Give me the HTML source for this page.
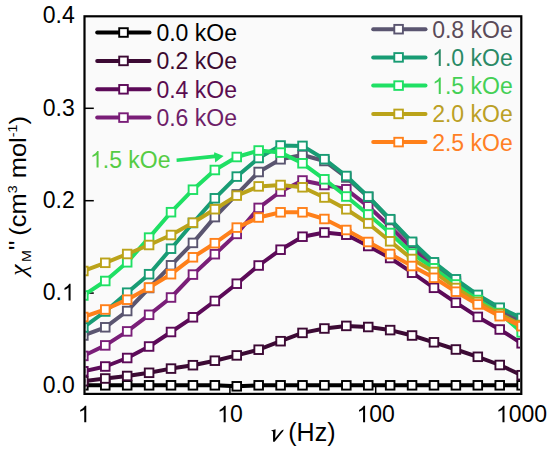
<!DOCTYPE html>
<html><head><meta charset="utf-8"><style>
html,body{margin:0;padding:0;background:#fff;width:550px;height:450px;overflow:hidden}
svg{display:block;font-family:"Liberation Sans",sans-serif}
</style></head><body>
<svg width="550" height="450" viewBox="0 0 550 450">
<defs><clipPath id="pc"><rect x="85.5" y="17.5" width="434.5" height="375.5"/></clipPath></defs>
<rect x="84.5" y="16.5" width="436.5" height="377.5" fill="#fafafa"/>
<line x1="85" y1="385.50" x2="93.8" y2="385.50" stroke="#000" stroke-width="1.5"/>
<line x1="85" y1="293.10" x2="93.8" y2="293.10" stroke="#000" stroke-width="1.5"/>
<line x1="85" y1="200.70" x2="93.8" y2="200.70" stroke="#000" stroke-width="1.5"/>
<line x1="85" y1="108.30" x2="93.8" y2="108.30" stroke="#000" stroke-width="1.5"/>
<line x1="229.90" y1="393" x2="229.90" y2="386.5" stroke="#000" stroke-width="1.5"/>
<line x1="375.70" y1="393" x2="375.70" y2="386.5" stroke="#000" stroke-width="1.5"/>
<g clip-path="url(#pc)">
<polyline points="83.36,385.30 105.27,385.30 127.19,385.30 149.10,385.30 171.02,385.30 192.93,385.30 214.84,385.30 236.76,386.30 258.67,385.30 280.59,385.30 302.50,385.30 324.41,385.30 346.33,385.30 368.24,385.30 390.16,385.30 412.07,385.30 433.98,385.30 455.90,385.30 477.81,385.30 499.73,385.30 521.64,385.30" fill="none" stroke="#000000" stroke-width="4.0" stroke-linejoin="round"/>
<rect x="79.06" y="381.00" width="8.6" height="8.6" fill="#fff" stroke="#000000" stroke-width="1.9"/>
<rect x="100.97" y="381.00" width="8.6" height="8.6" fill="#fff" stroke="#000000" stroke-width="1.9"/>
<rect x="122.89" y="381.00" width="8.6" height="8.6" fill="#fff" stroke="#000000" stroke-width="1.9"/>
<rect x="144.80" y="381.00" width="8.6" height="8.6" fill="#fff" stroke="#000000" stroke-width="1.9"/>
<rect x="166.72" y="381.00" width="8.6" height="8.6" fill="#fff" stroke="#000000" stroke-width="1.9"/>
<rect x="188.63" y="381.00" width="8.6" height="8.6" fill="#fff" stroke="#000000" stroke-width="1.9"/>
<rect x="210.54" y="381.00" width="8.6" height="8.6" fill="#fff" stroke="#000000" stroke-width="1.9"/>
<rect x="232.46" y="382.00" width="8.6" height="8.6" fill="#fff" stroke="#000000" stroke-width="1.9"/>
<rect x="254.37" y="381.00" width="8.6" height="8.6" fill="#fff" stroke="#000000" stroke-width="1.9"/>
<rect x="276.29" y="381.00" width="8.6" height="8.6" fill="#fff" stroke="#000000" stroke-width="1.9"/>
<rect x="298.20" y="381.00" width="8.6" height="8.6" fill="#fff" stroke="#000000" stroke-width="1.9"/>
<rect x="320.11" y="381.00" width="8.6" height="8.6" fill="#fff" stroke="#000000" stroke-width="1.9"/>
<rect x="342.03" y="381.00" width="8.6" height="8.6" fill="#fff" stroke="#000000" stroke-width="1.9"/>
<rect x="363.94" y="381.00" width="8.6" height="8.6" fill="#fff" stroke="#000000" stroke-width="1.9"/>
<rect x="385.86" y="381.00" width="8.6" height="8.6" fill="#fff" stroke="#000000" stroke-width="1.9"/>
<rect x="407.77" y="381.00" width="8.6" height="8.6" fill="#fff" stroke="#000000" stroke-width="1.9"/>
<rect x="429.68" y="381.00" width="8.6" height="8.6" fill="#fff" stroke="#000000" stroke-width="1.9"/>
<rect x="451.60" y="381.00" width="8.6" height="8.6" fill="#fff" stroke="#000000" stroke-width="1.9"/>
<rect x="473.51" y="381.00" width="8.6" height="8.6" fill="#fff" stroke="#000000" stroke-width="1.9"/>
<rect x="495.43" y="381.00" width="8.6" height="8.6" fill="#fff" stroke="#000000" stroke-width="1.9"/>
<rect x="517.34" y="381.00" width="8.6" height="8.6" fill="#fff" stroke="#000000" stroke-width="1.9"/>
<polyline points="83.36,381.20 105.27,378.50 127.19,376.00 149.10,372.80 171.02,368.60 192.93,365.20 214.84,360.70 236.76,355.40 258.67,349.70 280.59,341.20 302.50,332.90 324.41,328.50 346.33,325.90 368.24,327.00 390.16,330.10 412.07,335.50 433.98,342.30 455.90,349.50 477.81,356.80 499.73,365.00 521.64,375.20" fill="none" stroke="#3c0a34" stroke-width="4.0" stroke-linejoin="round"/>
<rect x="79.06" y="376.90" width="8.6" height="8.6" fill="#fff" stroke="#3c0a34" stroke-width="1.9"/>
<rect x="100.97" y="374.20" width="8.6" height="8.6" fill="#fff" stroke="#3c0a34" stroke-width="1.9"/>
<rect x="122.89" y="371.70" width="8.6" height="8.6" fill="#fff" stroke="#3c0a34" stroke-width="1.9"/>
<rect x="144.80" y="368.50" width="8.6" height="8.6" fill="#fff" stroke="#3c0a34" stroke-width="1.9"/>
<rect x="166.72" y="364.30" width="8.6" height="8.6" fill="#fff" stroke="#3c0a34" stroke-width="1.9"/>
<rect x="188.63" y="360.90" width="8.6" height="8.6" fill="#fff" stroke="#3c0a34" stroke-width="1.9"/>
<rect x="210.54" y="356.40" width="8.6" height="8.6" fill="#fff" stroke="#3c0a34" stroke-width="1.9"/>
<rect x="232.46" y="351.10" width="8.6" height="8.6" fill="#fff" stroke="#3c0a34" stroke-width="1.9"/>
<rect x="254.37" y="345.40" width="8.6" height="8.6" fill="#fff" stroke="#3c0a34" stroke-width="1.9"/>
<rect x="276.29" y="336.90" width="8.6" height="8.6" fill="#fff" stroke="#3c0a34" stroke-width="1.9"/>
<rect x="298.20" y="328.60" width="8.6" height="8.6" fill="#fff" stroke="#3c0a34" stroke-width="1.9"/>
<rect x="320.11" y="324.20" width="8.6" height="8.6" fill="#fff" stroke="#3c0a34" stroke-width="1.9"/>
<rect x="342.03" y="321.60" width="8.6" height="8.6" fill="#fff" stroke="#3c0a34" stroke-width="1.9"/>
<rect x="363.94" y="322.70" width="8.6" height="8.6" fill="#fff" stroke="#3c0a34" stroke-width="1.9"/>
<rect x="385.86" y="325.80" width="8.6" height="8.6" fill="#fff" stroke="#3c0a34" stroke-width="1.9"/>
<rect x="407.77" y="331.20" width="8.6" height="8.6" fill="#fff" stroke="#3c0a34" stroke-width="1.9"/>
<rect x="429.68" y="338.00" width="8.6" height="8.6" fill="#fff" stroke="#3c0a34" stroke-width="1.9"/>
<rect x="451.60" y="345.20" width="8.6" height="8.6" fill="#fff" stroke="#3c0a34" stroke-width="1.9"/>
<rect x="473.51" y="352.50" width="8.6" height="8.6" fill="#fff" stroke="#3c0a34" stroke-width="1.9"/>
<rect x="495.43" y="360.70" width="8.6" height="8.6" fill="#fff" stroke="#3c0a34" stroke-width="1.9"/>
<rect x="517.34" y="370.90" width="8.6" height="8.6" fill="#fff" stroke="#3c0a34" stroke-width="1.9"/>
<polyline points="83.36,371.30 105.27,366.50 127.19,358.00 149.10,346.50 171.02,332.00 192.93,317.30 214.84,301.00 236.76,283.70 258.67,265.50 280.59,249.70 302.50,236.70 324.41,232.50 346.33,234.70 368.24,246.00 390.16,258.00 412.07,272.70 433.98,287.80 455.90,302.70 477.81,316.90 499.73,329.50 521.64,343.30" fill="none" stroke="#5c0a58" stroke-width="4.0" stroke-linejoin="round"/>
<rect x="79.06" y="367.00" width="8.6" height="8.6" fill="#fff" stroke="#5c0a58" stroke-width="1.9"/>
<rect x="100.97" y="362.20" width="8.6" height="8.6" fill="#fff" stroke="#5c0a58" stroke-width="1.9"/>
<rect x="122.89" y="353.70" width="8.6" height="8.6" fill="#fff" stroke="#5c0a58" stroke-width="1.9"/>
<rect x="144.80" y="342.20" width="8.6" height="8.6" fill="#fff" stroke="#5c0a58" stroke-width="1.9"/>
<rect x="166.72" y="327.70" width="8.6" height="8.6" fill="#fff" stroke="#5c0a58" stroke-width="1.9"/>
<rect x="188.63" y="313.00" width="8.6" height="8.6" fill="#fff" stroke="#5c0a58" stroke-width="1.9"/>
<rect x="210.54" y="296.70" width="8.6" height="8.6" fill="#fff" stroke="#5c0a58" stroke-width="1.9"/>
<rect x="232.46" y="279.40" width="8.6" height="8.6" fill="#fff" stroke="#5c0a58" stroke-width="1.9"/>
<rect x="254.37" y="261.20" width="8.6" height="8.6" fill="#fff" stroke="#5c0a58" stroke-width="1.9"/>
<rect x="276.29" y="245.40" width="8.6" height="8.6" fill="#fff" stroke="#5c0a58" stroke-width="1.9"/>
<rect x="298.20" y="232.40" width="8.6" height="8.6" fill="#fff" stroke="#5c0a58" stroke-width="1.9"/>
<rect x="320.11" y="228.20" width="8.6" height="8.6" fill="#fff" stroke="#5c0a58" stroke-width="1.9"/>
<rect x="342.03" y="230.40" width="8.6" height="8.6" fill="#fff" stroke="#5c0a58" stroke-width="1.9"/>
<rect x="363.94" y="241.70" width="8.6" height="8.6" fill="#fff" stroke="#5c0a58" stroke-width="1.9"/>
<rect x="385.86" y="253.70" width="8.6" height="8.6" fill="#fff" stroke="#5c0a58" stroke-width="1.9"/>
<rect x="407.77" y="268.40" width="8.6" height="8.6" fill="#fff" stroke="#5c0a58" stroke-width="1.9"/>
<rect x="429.68" y="283.50" width="8.6" height="8.6" fill="#fff" stroke="#5c0a58" stroke-width="1.9"/>
<rect x="451.60" y="298.40" width="8.6" height="8.6" fill="#fff" stroke="#5c0a58" stroke-width="1.9"/>
<rect x="473.51" y="312.60" width="8.6" height="8.6" fill="#fff" stroke="#5c0a58" stroke-width="1.9"/>
<rect x="495.43" y="325.20" width="8.6" height="8.6" fill="#fff" stroke="#5c0a58" stroke-width="1.9"/>
<rect x="517.34" y="339.00" width="8.6" height="8.6" fill="#fff" stroke="#5c0a58" stroke-width="1.9"/>
<polyline points="83.36,355.90 105.27,345.40 127.19,331.40 149.10,314.80 171.02,297.50 192.93,274.60 214.84,254.20 236.76,233.90 258.67,207.90 280.59,191.50 302.50,180.50 324.41,185.00 346.33,189.30 368.24,206.30 390.16,226.70 412.07,248.70 433.98,265.00 455.90,283.00 477.81,298.00 499.73,311.00 521.64,322.00" fill="none" stroke="#7a1e78" stroke-width="4.0" stroke-linejoin="round"/>
<rect x="79.06" y="351.60" width="8.6" height="8.6" fill="#fff" stroke="#7a1e78" stroke-width="1.9"/>
<rect x="100.97" y="341.10" width="8.6" height="8.6" fill="#fff" stroke="#7a1e78" stroke-width="1.9"/>
<rect x="122.89" y="327.10" width="8.6" height="8.6" fill="#fff" stroke="#7a1e78" stroke-width="1.9"/>
<rect x="144.80" y="310.50" width="8.6" height="8.6" fill="#fff" stroke="#7a1e78" stroke-width="1.9"/>
<rect x="166.72" y="293.20" width="8.6" height="8.6" fill="#fff" stroke="#7a1e78" stroke-width="1.9"/>
<rect x="188.63" y="270.30" width="8.6" height="8.6" fill="#fff" stroke="#7a1e78" stroke-width="1.9"/>
<rect x="210.54" y="249.90" width="8.6" height="8.6" fill="#fff" stroke="#7a1e78" stroke-width="1.9"/>
<rect x="232.46" y="229.60" width="8.6" height="8.6" fill="#fff" stroke="#7a1e78" stroke-width="1.9"/>
<rect x="254.37" y="203.60" width="8.6" height="8.6" fill="#fff" stroke="#7a1e78" stroke-width="1.9"/>
<rect x="276.29" y="187.20" width="8.6" height="8.6" fill="#fff" stroke="#7a1e78" stroke-width="1.9"/>
<rect x="298.20" y="176.20" width="8.6" height="8.6" fill="#fff" stroke="#7a1e78" stroke-width="1.9"/>
<rect x="320.11" y="180.70" width="8.6" height="8.6" fill="#fff" stroke="#7a1e78" stroke-width="1.9"/>
<rect x="342.03" y="185.00" width="8.6" height="8.6" fill="#fff" stroke="#7a1e78" stroke-width="1.9"/>
<rect x="363.94" y="202.00" width="8.6" height="8.6" fill="#fff" stroke="#7a1e78" stroke-width="1.9"/>
<rect x="385.86" y="222.40" width="8.6" height="8.6" fill="#fff" stroke="#7a1e78" stroke-width="1.9"/>
<rect x="407.77" y="244.40" width="8.6" height="8.6" fill="#fff" stroke="#7a1e78" stroke-width="1.9"/>
<rect x="429.68" y="260.70" width="8.6" height="8.6" fill="#fff" stroke="#7a1e78" stroke-width="1.9"/>
<rect x="451.60" y="278.70" width="8.6" height="8.6" fill="#fff" stroke="#7a1e78" stroke-width="1.9"/>
<rect x="473.51" y="293.70" width="8.6" height="8.6" fill="#fff" stroke="#7a1e78" stroke-width="1.9"/>
<rect x="495.43" y="306.70" width="8.6" height="8.6" fill="#fff" stroke="#7a1e78" stroke-width="1.9"/>
<rect x="517.34" y="317.70" width="8.6" height="8.6" fill="#fff" stroke="#7a1e78" stroke-width="1.9"/>
<polyline points="83.36,335.50 105.27,327.30 127.19,311.00 149.10,288.00 171.02,265.30 192.93,242.90 214.84,217.10 236.76,194.40 258.67,172.00 280.59,159.30 302.50,155.00 324.41,161.00 346.33,177.50 368.24,197.00 390.16,220.00 412.07,243.00 433.98,264.00 455.90,281.00 477.81,297.00 499.73,310.00 521.64,321.00" fill="none" stroke="#5a5570" stroke-width="4.0" stroke-linejoin="round"/>
<rect x="79.06" y="331.20" width="8.6" height="8.6" fill="#fff" stroke="#5a5570" stroke-width="1.9"/>
<rect x="100.97" y="323.00" width="8.6" height="8.6" fill="#fff" stroke="#5a5570" stroke-width="1.9"/>
<rect x="122.89" y="306.70" width="8.6" height="8.6" fill="#fff" stroke="#5a5570" stroke-width="1.9"/>
<rect x="144.80" y="283.70" width="8.6" height="8.6" fill="#fff" stroke="#5a5570" stroke-width="1.9"/>
<rect x="166.72" y="261.00" width="8.6" height="8.6" fill="#fff" stroke="#5a5570" stroke-width="1.9"/>
<rect x="188.63" y="238.60" width="8.6" height="8.6" fill="#fff" stroke="#5a5570" stroke-width="1.9"/>
<rect x="210.54" y="212.80" width="8.6" height="8.6" fill="#fff" stroke="#5a5570" stroke-width="1.9"/>
<rect x="232.46" y="190.10" width="8.6" height="8.6" fill="#fff" stroke="#5a5570" stroke-width="1.9"/>
<rect x="254.37" y="167.70" width="8.6" height="8.6" fill="#fff" stroke="#5a5570" stroke-width="1.9"/>
<rect x="276.29" y="155.00" width="8.6" height="8.6" fill="#fff" stroke="#5a5570" stroke-width="1.9"/>
<rect x="298.20" y="150.70" width="8.6" height="8.6" fill="#fff" stroke="#5a5570" stroke-width="1.9"/>
<rect x="320.11" y="156.70" width="8.6" height="8.6" fill="#fff" stroke="#5a5570" stroke-width="1.9"/>
<rect x="342.03" y="173.20" width="8.6" height="8.6" fill="#fff" stroke="#5a5570" stroke-width="1.9"/>
<rect x="363.94" y="192.70" width="8.6" height="8.6" fill="#fff" stroke="#5a5570" stroke-width="1.9"/>
<rect x="385.86" y="215.70" width="8.6" height="8.6" fill="#fff" stroke="#5a5570" stroke-width="1.9"/>
<rect x="407.77" y="238.70" width="8.6" height="8.6" fill="#fff" stroke="#5a5570" stroke-width="1.9"/>
<rect x="429.68" y="259.70" width="8.6" height="8.6" fill="#fff" stroke="#5a5570" stroke-width="1.9"/>
<rect x="451.60" y="276.70" width="8.6" height="8.6" fill="#fff" stroke="#5a5570" stroke-width="1.9"/>
<rect x="473.51" y="292.70" width="8.6" height="8.6" fill="#fff" stroke="#5a5570" stroke-width="1.9"/>
<rect x="495.43" y="305.70" width="8.6" height="8.6" fill="#fff" stroke="#5a5570" stroke-width="1.9"/>
<rect x="517.34" y="316.70" width="8.6" height="8.6" fill="#fff" stroke="#5a5570" stroke-width="1.9"/>
<polyline points="83.36,327.50 105.27,311.50 127.19,292.70 149.10,274.20 171.02,248.70 192.93,223.00 214.84,198.30 236.76,176.60 258.67,158.00 280.59,145.50 302.50,145.90 324.41,159.20 346.33,176.00 368.24,196.60 390.16,219.20 412.07,241.80 433.98,262.30 455.90,279.30 477.81,294.90 499.73,307.70 521.64,318.00" fill="none" stroke="#189c74" stroke-width="4.0" stroke-linejoin="round"/>
<rect x="79.06" y="323.20" width="8.6" height="8.6" fill="#fff" stroke="#189c74" stroke-width="1.9"/>
<rect x="100.97" y="307.20" width="8.6" height="8.6" fill="#fff" stroke="#189c74" stroke-width="1.9"/>
<rect x="122.89" y="288.40" width="8.6" height="8.6" fill="#fff" stroke="#189c74" stroke-width="1.9"/>
<rect x="144.80" y="269.90" width="8.6" height="8.6" fill="#fff" stroke="#189c74" stroke-width="1.9"/>
<rect x="166.72" y="244.40" width="8.6" height="8.6" fill="#fff" stroke="#189c74" stroke-width="1.9"/>
<rect x="188.63" y="218.70" width="8.6" height="8.6" fill="#fff" stroke="#189c74" stroke-width="1.9"/>
<rect x="210.54" y="194.00" width="8.6" height="8.6" fill="#fff" stroke="#189c74" stroke-width="1.9"/>
<rect x="232.46" y="172.30" width="8.6" height="8.6" fill="#fff" stroke="#189c74" stroke-width="1.9"/>
<rect x="254.37" y="153.70" width="8.6" height="8.6" fill="#fff" stroke="#189c74" stroke-width="1.9"/>
<rect x="276.29" y="141.20" width="8.6" height="8.6" fill="#fff" stroke="#189c74" stroke-width="1.9"/>
<rect x="298.20" y="141.60" width="8.6" height="8.6" fill="#fff" stroke="#189c74" stroke-width="1.9"/>
<rect x="320.11" y="154.90" width="8.6" height="8.6" fill="#fff" stroke="#189c74" stroke-width="1.9"/>
<rect x="342.03" y="171.70" width="8.6" height="8.6" fill="#fff" stroke="#189c74" stroke-width="1.9"/>
<rect x="363.94" y="192.30" width="8.6" height="8.6" fill="#fff" stroke="#189c74" stroke-width="1.9"/>
<rect x="385.86" y="214.90" width="8.6" height="8.6" fill="#fff" stroke="#189c74" stroke-width="1.9"/>
<rect x="407.77" y="237.50" width="8.6" height="8.6" fill="#fff" stroke="#189c74" stroke-width="1.9"/>
<rect x="429.68" y="258.00" width="8.6" height="8.6" fill="#fff" stroke="#189c74" stroke-width="1.9"/>
<rect x="451.60" y="275.00" width="8.6" height="8.6" fill="#fff" stroke="#189c74" stroke-width="1.9"/>
<rect x="473.51" y="290.60" width="8.6" height="8.6" fill="#fff" stroke="#189c74" stroke-width="1.9"/>
<rect x="495.43" y="303.40" width="8.6" height="8.6" fill="#fff" stroke="#189c74" stroke-width="1.9"/>
<rect x="517.34" y="313.70" width="8.6" height="8.6" fill="#fff" stroke="#189c74" stroke-width="1.9"/>
<polyline points="83.36,295.50 105.27,281.00 127.19,262.30 149.10,237.60 171.02,212.20 192.93,189.70 214.84,170.00 236.76,157.00 258.67,150.50 280.59,152.60 302.50,163.30 324.41,179.30 346.33,196.50 368.24,214.50 390.16,233.00 412.07,253.50 433.98,268.30 455.90,284.50 477.81,300.00 499.73,313.00 521.64,332.40" fill="none" stroke="#1fe064" stroke-width="4.0" stroke-linejoin="round"/>
<rect x="79.06" y="291.20" width="8.6" height="8.6" fill="#fff" stroke="#1fe064" stroke-width="1.9"/>
<rect x="100.97" y="276.70" width="8.6" height="8.6" fill="#fff" stroke="#1fe064" stroke-width="1.9"/>
<rect x="122.89" y="258.00" width="8.6" height="8.6" fill="#fff" stroke="#1fe064" stroke-width="1.9"/>
<rect x="144.80" y="233.30" width="8.6" height="8.6" fill="#fff" stroke="#1fe064" stroke-width="1.9"/>
<rect x="166.72" y="207.90" width="8.6" height="8.6" fill="#fff" stroke="#1fe064" stroke-width="1.9"/>
<rect x="188.63" y="185.40" width="8.6" height="8.6" fill="#fff" stroke="#1fe064" stroke-width="1.9"/>
<rect x="210.54" y="165.70" width="8.6" height="8.6" fill="#fff" stroke="#1fe064" stroke-width="1.9"/>
<rect x="232.46" y="152.70" width="8.6" height="8.6" fill="#fff" stroke="#1fe064" stroke-width="1.9"/>
<rect x="254.37" y="146.20" width="8.6" height="8.6" fill="#fff" stroke="#1fe064" stroke-width="1.9"/>
<rect x="276.29" y="148.30" width="8.6" height="8.6" fill="#fff" stroke="#1fe064" stroke-width="1.9"/>
<rect x="298.20" y="159.00" width="8.6" height="8.6" fill="#fff" stroke="#1fe064" stroke-width="1.9"/>
<rect x="320.11" y="175.00" width="8.6" height="8.6" fill="#fff" stroke="#1fe064" stroke-width="1.9"/>
<rect x="342.03" y="192.20" width="8.6" height="8.6" fill="#fff" stroke="#1fe064" stroke-width="1.9"/>
<rect x="363.94" y="210.20" width="8.6" height="8.6" fill="#fff" stroke="#1fe064" stroke-width="1.9"/>
<rect x="385.86" y="228.70" width="8.6" height="8.6" fill="#fff" stroke="#1fe064" stroke-width="1.9"/>
<rect x="407.77" y="249.20" width="8.6" height="8.6" fill="#fff" stroke="#1fe064" stroke-width="1.9"/>
<rect x="429.68" y="264.00" width="8.6" height="8.6" fill="#fff" stroke="#1fe064" stroke-width="1.9"/>
<rect x="451.60" y="280.20" width="8.6" height="8.6" fill="#fff" stroke="#1fe064" stroke-width="1.9"/>
<rect x="473.51" y="295.70" width="8.6" height="8.6" fill="#fff" stroke="#1fe064" stroke-width="1.9"/>
<rect x="495.43" y="308.70" width="8.6" height="8.6" fill="#fff" stroke="#1fe064" stroke-width="1.9"/>
<rect x="517.34" y="328.10" width="8.6" height="8.6" fill="#fff" stroke="#1fe064" stroke-width="1.9"/>
<polyline points="83.36,271.00 105.27,262.80 127.19,254.00 149.10,245.00 171.02,235.00 192.93,222.70 214.84,209.20 236.76,195.60 258.67,186.40 280.59,185.00 302.50,187.30 324.41,197.50 346.33,209.30 368.24,223.50 390.16,241.30 412.07,259.00 433.98,272.00 455.90,288.00 477.81,302.00 499.73,314.00 521.64,325.00" fill="none" stroke="#bba31a" stroke-width="4.0" stroke-linejoin="round"/>
<rect x="79.06" y="266.70" width="8.6" height="8.6" fill="#fff" stroke="#bba31a" stroke-width="1.9"/>
<rect x="100.97" y="258.50" width="8.6" height="8.6" fill="#fff" stroke="#bba31a" stroke-width="1.9"/>
<rect x="122.89" y="249.70" width="8.6" height="8.6" fill="#fff" stroke="#bba31a" stroke-width="1.9"/>
<rect x="144.80" y="240.70" width="8.6" height="8.6" fill="#fff" stroke="#bba31a" stroke-width="1.9"/>
<rect x="166.72" y="230.70" width="8.6" height="8.6" fill="#fff" stroke="#bba31a" stroke-width="1.9"/>
<rect x="188.63" y="218.40" width="8.6" height="8.6" fill="#fff" stroke="#bba31a" stroke-width="1.9"/>
<rect x="210.54" y="204.90" width="8.6" height="8.6" fill="#fff" stroke="#bba31a" stroke-width="1.9"/>
<rect x="232.46" y="191.30" width="8.6" height="8.6" fill="#fff" stroke="#bba31a" stroke-width="1.9"/>
<rect x="254.37" y="182.10" width="8.6" height="8.6" fill="#fff" stroke="#bba31a" stroke-width="1.9"/>
<rect x="276.29" y="180.70" width="8.6" height="8.6" fill="#fff" stroke="#bba31a" stroke-width="1.9"/>
<rect x="298.20" y="183.00" width="8.6" height="8.6" fill="#fff" stroke="#bba31a" stroke-width="1.9"/>
<rect x="320.11" y="193.20" width="8.6" height="8.6" fill="#fff" stroke="#bba31a" stroke-width="1.9"/>
<rect x="342.03" y="205.00" width="8.6" height="8.6" fill="#fff" stroke="#bba31a" stroke-width="1.9"/>
<rect x="363.94" y="219.20" width="8.6" height="8.6" fill="#fff" stroke="#bba31a" stroke-width="1.9"/>
<rect x="385.86" y="237.00" width="8.6" height="8.6" fill="#fff" stroke="#bba31a" stroke-width="1.9"/>
<rect x="407.77" y="254.70" width="8.6" height="8.6" fill="#fff" stroke="#bba31a" stroke-width="1.9"/>
<rect x="429.68" y="267.70" width="8.6" height="8.6" fill="#fff" stroke="#bba31a" stroke-width="1.9"/>
<rect x="451.60" y="283.70" width="8.6" height="8.6" fill="#fff" stroke="#bba31a" stroke-width="1.9"/>
<rect x="473.51" y="297.70" width="8.6" height="8.6" fill="#fff" stroke="#bba31a" stroke-width="1.9"/>
<rect x="495.43" y="309.70" width="8.6" height="8.6" fill="#fff" stroke="#bba31a" stroke-width="1.9"/>
<rect x="517.34" y="320.70" width="8.6" height="8.6" fill="#fff" stroke="#bba31a" stroke-width="1.9"/>
<polyline points="83.36,317.00 105.27,309.50 127.19,299.70 149.10,287.50 171.02,274.20 192.93,257.30 214.84,243.20 236.76,227.60 258.67,217.50 280.59,212.30 302.50,212.30 324.41,219.00 346.33,230.00 368.24,242.00 390.16,254.00 412.07,266.00 433.98,277.80 455.90,291.70 477.81,304.40 499.73,316.20 521.64,326.20" fill="none" stroke="#ff801a" stroke-width="4.0" stroke-linejoin="round"/>
<rect x="79.06" y="312.70" width="8.6" height="8.6" fill="#fff" stroke="#ff801a" stroke-width="1.9"/>
<rect x="100.97" y="305.20" width="8.6" height="8.6" fill="#fff" stroke="#ff801a" stroke-width="1.9"/>
<rect x="122.89" y="295.40" width="8.6" height="8.6" fill="#fff" stroke="#ff801a" stroke-width="1.9"/>
<rect x="144.80" y="283.20" width="8.6" height="8.6" fill="#fff" stroke="#ff801a" stroke-width="1.9"/>
<rect x="166.72" y="269.90" width="8.6" height="8.6" fill="#fff" stroke="#ff801a" stroke-width="1.9"/>
<rect x="188.63" y="253.00" width="8.6" height="8.6" fill="#fff" stroke="#ff801a" stroke-width="1.9"/>
<rect x="210.54" y="238.90" width="8.6" height="8.6" fill="#fff" stroke="#ff801a" stroke-width="1.9"/>
<rect x="232.46" y="223.30" width="8.6" height="8.6" fill="#fff" stroke="#ff801a" stroke-width="1.9"/>
<rect x="254.37" y="213.20" width="8.6" height="8.6" fill="#fff" stroke="#ff801a" stroke-width="1.9"/>
<rect x="276.29" y="208.00" width="8.6" height="8.6" fill="#fff" stroke="#ff801a" stroke-width="1.9"/>
<rect x="298.20" y="208.00" width="8.6" height="8.6" fill="#fff" stroke="#ff801a" stroke-width="1.9"/>
<rect x="320.11" y="214.70" width="8.6" height="8.6" fill="#fff" stroke="#ff801a" stroke-width="1.9"/>
<rect x="342.03" y="225.70" width="8.6" height="8.6" fill="#fff" stroke="#ff801a" stroke-width="1.9"/>
<rect x="363.94" y="237.70" width="8.6" height="8.6" fill="#fff" stroke="#ff801a" stroke-width="1.9"/>
<rect x="385.86" y="249.70" width="8.6" height="8.6" fill="#fff" stroke="#ff801a" stroke-width="1.9"/>
<rect x="407.77" y="261.70" width="8.6" height="8.6" fill="#fff" stroke="#ff801a" stroke-width="1.9"/>
<rect x="429.68" y="273.50" width="8.6" height="8.6" fill="#fff" stroke="#ff801a" stroke-width="1.9"/>
<rect x="451.60" y="287.40" width="8.6" height="8.6" fill="#fff" stroke="#ff801a" stroke-width="1.9"/>
<rect x="473.51" y="300.10" width="8.6" height="8.6" fill="#fff" stroke="#ff801a" stroke-width="1.9"/>
<rect x="495.43" y="311.90" width="8.6" height="8.6" fill="#fff" stroke="#ff801a" stroke-width="1.9"/>
<rect x="517.34" y="321.90" width="8.6" height="8.6" fill="#fff" stroke="#ff801a" stroke-width="1.9"/>
</g>
<rect x="84.5" y="16.3" width="436.8" height="377.6" fill="none" stroke="#000" stroke-width="2.2"/>
<text x="42.83" y="23.20" font-size="23" fill="#000">0.4</text>
<text x="42.83" y="115.60" font-size="23" fill="#000">0.3</text>
<text x="42.83" y="208.00" font-size="23" fill="#000">0.2</text>
<text x="42.83" y="300.40" font-size="23" fill="#000">0. </text><path transform="translate(62.01,300.40) scale(0.011230,-0.011230)" d="M763,0L583,0L583,1147Q518,1085,412.5,1023Q307,961,223,930L223,1104Q374,1175,487,1276Q600,1377,647,1472L763,1472Z" fill="#000"/>
<text x="42.83" y="392.80" font-size="23" fill="#000">0.0</text>
<text x="77.70" y="422.30" font-size="23" fill="#000"> </text><path transform="translate(77.70,422.30) scale(0.011230,-0.011230)" d="M763,0L583,0L583,1147Q518,1085,412.5,1023Q307,961,223,930L223,1104Q374,1175,487,1276Q600,1377,647,1472L763,1472Z" fill="#000"/>
<text x="217.11" y="422.30" font-size="23" fill="#000"> 0</text><path transform="translate(217.11,422.30) scale(0.011230,-0.011230)" d="M763,0L583,0L583,1147Q518,1085,412.5,1023Q307,961,223,930L223,1104Q374,1175,487,1276Q600,1377,647,1472L763,1472Z" fill="#000"/>
<text x="356.51" y="422.30" font-size="23" fill="#000"> 00</text><path transform="translate(356.51,422.30) scale(0.011230,-0.011230)" d="M763,0L583,0L583,1147Q518,1085,412.5,1023Q307,961,223,930L223,1104Q374,1175,487,1276Q600,1377,647,1472L763,1472Z" fill="#000"/>
<text x="495.92" y="422.30" font-size="23" fill="#000"> 000</text><path transform="translate(495.92,422.30) scale(0.011230,-0.011230)" d="M763,0L583,0L583,1147Q518,1085,412.5,1023Q307,961,223,930L223,1104Q374,1175,487,1276Q600,1377,647,1472L763,1472Z" fill="#000"/>
<path d="M271.0,430.4 L275.6,429.3 L275.2,438.2 L280.6,431.6 C281.4,430.6 282.4,429.9 283.6,429.6 L283.3,430.9 L274.6,441.7 L273.1,441.7 L273.0,431.6 Z" fill="#000"/>
<text x="288.3" y="441.0" font-size="25">(Hz)</text>
<text transform="translate(25.9,275.8) rotate(-90) scale(1.02,0.94)" font-size="25"><tspan font-family="Liberation Serif" font-style="italic" font-size="25">&#967;</tspan><tspan font-size="14" dx="2.5" dy="5">M</tspan><tspan dy="-5">''</tspan><tspan dx="-2.5"> (cm</tspan><tspan font-size="14" dy="-10">3</tspan><tspan dy="10"> mol</tspan><tspan font-size="14" dy="-10">-1</tspan><tspan dy="10">)</tspan></text>
<line x1="97.2" y1="32.5" x2="149.5" y2="32.5" stroke="#000000" stroke-width="4.0" stroke-linecap="round"/>
<rect x="119.20" y="28.20" width="8.6" height="8.6" fill="#fff" stroke="#000000" stroke-width="1.9"/>
<text x="156.40" y="41.00" font-size="23" fill="#000000">0.0 kOe</text>
<line x1="97.2" y1="60.9" x2="149.5" y2="60.9" stroke="#3c0a34" stroke-width="4.0" stroke-linecap="round"/>
<rect x="119.20" y="56.60" width="8.6" height="8.6" fill="#fff" stroke="#3c0a34" stroke-width="1.9"/>
<text x="156.40" y="69.40" font-size="23" fill="#3c0a30">0.2 kOe</text>
<line x1="97.2" y1="89.3" x2="149.5" y2="89.3" stroke="#5c0a58" stroke-width="4.0" stroke-linecap="round"/>
<rect x="119.20" y="85.00" width="8.6" height="8.6" fill="#fff" stroke="#5c0a58" stroke-width="1.9"/>
<text x="156.40" y="97.80" font-size="23" fill="#5a0c50">0.4 kOe</text>
<line x1="97.2" y1="117.6" x2="149.5" y2="117.6" stroke="#7a1e78" stroke-width="4.0" stroke-linecap="round"/>
<rect x="119.20" y="113.30" width="8.6" height="8.6" fill="#fff" stroke="#7a1e78" stroke-width="1.9"/>
<text x="156.40" y="126.10" font-size="23" fill="#6e1e68">0.6 kOe</text>
<line x1="373.2" y1="29.2" x2="425.5" y2="29.2" stroke="#5a5570" stroke-width="4.0" stroke-linecap="round"/>
<rect x="394.30" y="24.90" width="8.6" height="8.6" fill="#fff" stroke="#5a5570" stroke-width="1.9"/>
<text x="432.20" y="37.70" font-size="23" fill="#5a4a58">0.8 kOe</text>
<line x1="373.2" y1="57.4" x2="425.5" y2="57.4" stroke="#189c74" stroke-width="4.0" stroke-linecap="round"/>
<rect x="394.30" y="53.10" width="8.6" height="8.6" fill="#fff" stroke="#189c74" stroke-width="1.9"/>
<text x="432.20" y="65.90" font-size="23" fill="#2a8a66"> .0 kOe</text><path transform="translate(432.20,65.90) scale(0.011230,-0.011230)" d="M763,0L583,0L583,1147Q518,1085,412.5,1023Q307,961,223,930L223,1104Q374,1175,487,1276Q600,1377,647,1472L763,1472Z" fill="#2a8a66"/>
<line x1="373.2" y1="85.6" x2="425.5" y2="85.6" stroke="#1fe064" stroke-width="4.0" stroke-linecap="round"/>
<rect x="394.30" y="81.30" width="8.6" height="8.6" fill="#fff" stroke="#1fe064" stroke-width="1.9"/>
<text x="432.20" y="94.10" font-size="23" fill="#44d055"> .5 kOe</text><path transform="translate(432.20,94.10) scale(0.011230,-0.011230)" d="M763,0L583,0L583,1147Q518,1085,412.5,1023Q307,961,223,930L223,1104Q374,1175,487,1276Q600,1377,647,1472L763,1472Z" fill="#44d055"/>
<line x1="373.2" y1="113.9" x2="425.5" y2="113.9" stroke="#bba31a" stroke-width="4.0" stroke-linecap="round"/>
<rect x="394.30" y="109.60" width="8.6" height="8.6" fill="#fff" stroke="#bba31a" stroke-width="1.9"/>
<text x="432.20" y="122.40" font-size="23" fill="#bba025">2.0 kOe</text>
<line x1="373.2" y1="142.1" x2="425.5" y2="142.1" stroke="#ff801a" stroke-width="4.0" stroke-linecap="round"/>
<rect x="394.30" y="137.80" width="8.6" height="8.6" fill="#fff" stroke="#ff801a" stroke-width="1.9"/>
<text x="432.20" y="150.60" font-size="23" fill="#ff7f25">2.5 kOe</text>
<text x="90.00" y="167.60" font-size="23" fill="#55cc44"> .5 kOe</text><path transform="translate(90.00,167.60) scale(0.011230,-0.011230)" d="M763,0L583,0L583,1147Q518,1085,412.5,1023Q307,961,223,930L223,1104Q374,1175,487,1276Q600,1377,647,1472L763,1472Z" fill="#55cc44"/>
<path d="M176.5,158.6 L214,154.6 L214.3,152.3 L223.6,155.9 L215.2,162.6 L214.8,158.3 L176.7,162 Z" fill="#1fe064"/>
</svg>
</body></html>
